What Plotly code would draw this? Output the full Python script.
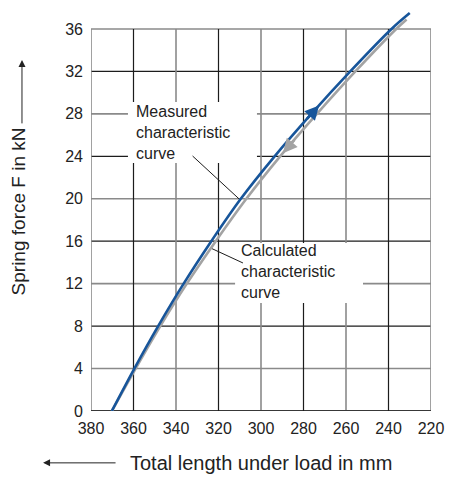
import numpy as np
import plotly.graph_objects as go

# ---- data ----
force_levels = [0, 4, 8, 12, 16, 20, 24, 28, 32, 36, 37.5]
measured_length = [370.2, 359.6, 348.4, 336.4, 323.4, 309.5, 293.6, 276.3, 258.0, 238.6, 230.0]
calc_force = [0, 4, 8, 12, 16, 20, 24, 28, 32, 36, 36.9]
calculated_length = [370.2, 359.0, 347.4, 334.9, 321.3, 306.9, 291.0, 273.7, 255.6, 236.4, 231.5]

x_ticks = [380, 360, 340, 320, 300, 280, 260, 240, 220]
y_ticks = [0, 4, 8, 12, 16, 20, 24, 28, 32, 36]

BLUE = "#17559a"
GREY = "#a3a3a3"
DARK = "#1c1c1c"
MID = "#8a8a8a"
FONT = "Liberation Sans, Arial, sans-serif"

fig = go.Figure()
fig.add_trace(go.Scatter(x=calculated_length, y=calc_force, mode="lines",
                         line=dict(color=GREY, width=2.6, shape="spline", smoothing=1.0),
                         hoverinfo="skip", showlegend=False))
fig.add_trace(go.Scatter(x=measured_length, y=force_levels, mode="lines",
                         line=dict(color=BLUE, width=2.6, shape="spline", smoothing=1.0),
                         hoverinfo="skip", showlegend=False))

shapes = []
# grid (alternating dark / mid grey) and frame
for i, v in enumerate(y_ticks):
    col = DARK if i % 2 == 0 else MID
    w = 1.2 if col == DARK else 1.6
    shapes.append(dict(type="line", xref="x", yref="y", x0=x_ticks[0], x1=x_ticks[-1], y0=v, y1=v,
                       line=dict(color=col, width=w), layer="below"))
for i, v in enumerate(x_ticks):
    col = MID if i % 2 == 0 else DARK
    w = 1.2 if col == DARK else 1.6
    shapes.append(dict(type="line", xref="x", yref="y", x0=v, x1=v, y0=y_ticks[0], y1=y_ticks[-1],
                       line=dict(color=col, width=w), layer="below"))
shapes.append(dict(type="line", xref="x", yref="y", x0=x_ticks[0], x1=x_ticks[-1], y0=0, y1=0,
                   line=dict(color=DARK, width=1.4), layer="below"))
# white label boxes
shapes.append(dict(type="rect", xref="x", yref="y", x0=362.6, x1=301.9, y0=23.37, y1=29.12,
                   fillcolor="white", line=dict(width=0), layer="below"))
shapes.append(dict(type="rect", xref="x", yref="y", x0=312.2, x1=252.0, y0=10.18, y1=15.83,
                   fillcolor="white", line=dict(width=0), layer="below"))
# leader lines
shapes.append(dict(type="line", xref="x", yref="y", x0=332.2, y0=24.03,
                   x1=float(np.interp(19.9, force_levels, measured_length)), y1=19.9,
                   line=dict(color=DARK, width=1), layer="below"))
shapes.append(dict(type="line", xref="x", yref="y", x0=308.5, y0=13.95,
                   x1=float(np.interp(15.3, calc_force, calculated_length)) - 0.6, y1=15.3,
                   line=dict(color=DARK, width=1), layer="below"))

annotations = [
    dict(x=359.6, y=26.2, xref="x", yref="y", text="Measured<br>characteristic<br>curve",
         showarrow=False, xanchor="left", yanchor="middle", align="left",
         font=dict(family=FONT, size=16, color="#222")),
    dict(x=310.2, y=13.1, xref="x", yref="y", text="Calculated<br>characteristic<br>curve",
         showarrow=False, xanchor="left", yanchor="middle", align="left",
         font=dict(family=FONT, size=16, color="#222")),
]
# direction arrows on curves
bt, bs = 28.8, 27.4
annotations.append(dict(x=float(np.interp(bt, force_levels, measured_length)), y=bt,
                        ax=float(np.interp(bs, force_levels, measured_length)), ay=bs,
                        xref="x", yref="y", axref="x", ayref="y", text="", showarrow=True,
                        arrowhead=2, arrowsize=1.1, arrowwidth=2.6, arrowcolor=BLUE))
gt, gs = 24.3, 25.7
annotations.append(dict(x=float(np.interp(gt, calc_force, calculated_length)), y=gt,
                        ax=float(np.interp(gs, calc_force, calculated_length)), ay=gs,
                        xref="x", yref="y", axref="x", ayref="y", text="", showarrow=True,
                        arrowhead=2, arrowsize=1.1, arrowwidth=2.6, arrowcolor=GREY))
# axis titles with arrows
annotations.append(dict(x=-0.212, y=0.50, xref="paper", yref="paper", text="Spring force F in kN",
                        textangle=-90, showarrow=False, xanchor="center", yanchor="middle",
                        font=dict(family=FONT, size=19, color="#222")))
annotations.append(dict(x=-0.203, y=0.88, xref="paper", yref="paper", text="", showarrow=True,
                        ax=0, ay=65, arrowhead=2, arrowsize=1.4, arrowwidth=1, arrowcolor="#222"))
annotations.append(dict(x=0.50, y=-0.13, xref="paper", yref="paper", text="Total length under load in mm",
                        showarrow=False, xanchor="center", yanchor="middle",
                        font=dict(family=FONT, size=20, color="#222")))
annotations.append(dict(x=-0.141, y=-0.13, xref="paper", yref="paper", text="", showarrow=True,
                        ax=74, ay=0, arrowhead=2, arrowsize=1.4, arrowwidth=1, arrowcolor="#222"))

fig.update_layout(
    width=449, height=480, autosize=False,
    margin=dict(l=91, r=18, t=12, b=69),
    paper_bgcolor="white", plot_bgcolor="white",
    shapes=shapes, annotations=annotations,
    font=dict(family=FONT, size=16, color="#222"),
    xaxis=dict(range=[380, 220], tickvals=x_ticks, showgrid=False, zeroline=False, automargin=False,
               showline=False, ticks="", ticklabelstandoff=6, tickfont=dict(size=16, color="#222")),
    yaxis=dict(range=[0, 37.6], tickvals=y_ticks, showgrid=False, zeroline=False, automargin=False,
               showline=False, ticks="", ticklabelstandoff=7, tickfont=dict(size=16, color="#222")),
)
fig.write_html(
    "out.html",
    config={"displayModeBar": False, "responsive": False},
    post_script=("document.documentElement.style.overflow='hidden';"
                 "document.body.style.overflow='hidden';"
                 "document.body.style.margin='0';"),
)
